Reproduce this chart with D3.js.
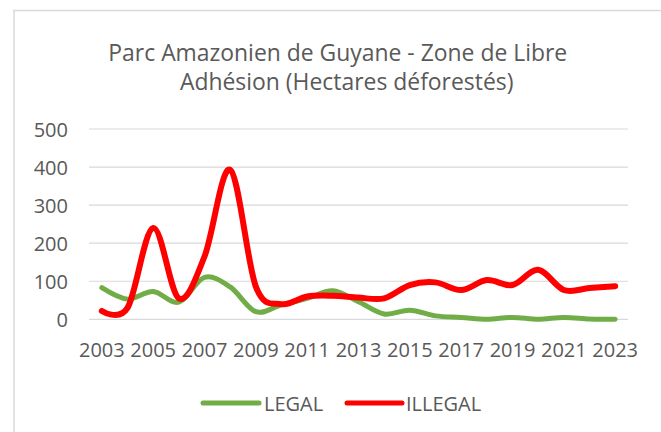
<!DOCTYPE html>
<html><head><meta charset="utf-8">
<script src="https://cdn.jsdelivr.net/npm/d3@7"></script>
<style>html,body{margin:0;padding:0;background:#fff;}svg{display:block;font-family:"Open Sans",sans-serif;}</style>
</head><body>
<svg id="c" width="661" height="432"></svg>
<script>
const years = [2003,2004,2005,2006,2007,2008,2009,2010,2011,2012,2013,2014,2015,2016,2017,2018,2019,2020,2021,2022,2023];
const legal = [83,53,73,45,110,85,20,38,55,75,46,14,24,9,5,0,5,0,5,1,0];
const illegal = [22,30,240,55,165,393,86,40,60,62,57,55,90,97,77,103,90,130,77,82,87];
const yTicks = [0,100,200,300,400,500];
const xTickYears = years.filter((y,i)=>i%2===0);
const seriesNames = ["LEGAL","ILLEGAL"];
const seriesColors = ["#70ad47","#ff0000"];
const titleLines = ["Parc Amazonien de Guyane - Zone de Libre","Adhésion (Hectares déforestés)"];

const svg = d3.select("#c");
const txt = "#595959";

// outer border
svg.append("rect").attr("x",14).attr("y",10.5).attr("width",700).attr("height",500)
  .attr("fill","none").attr("stroke","#d9d9d9").attr("stroke-width",1.5);

const x = d3.scaleBand().domain(years).range([89,628]);
const y = d3.scaleLinear().domain([0,500]).range([319.3,129]);

// grid
svg.append("g").selectAll("line").data(yTicks).join("line")
  .attr("x1",89).attr("x2",628).attr("y1",d=>y(d)).attr("y2",d=>y(d))
  .attr("stroke","#d9d9d9").attr("stroke-width",1.2);

// y axis labels
const yAxis = d3.axisLeft(y).tickValues(yTicks).tickSize(0).tickPadding(0);
const gy = svg.append("g").attr("transform","translate(68,0)").call(yAxis);
gy.select(".domain").remove();
gy.selectAll("text").attr("fill",txt).style("font-size","20px").style("font-family","Open Sans").attr("dy","0.35em");

// x axis labels
const xAxis = d3.axisBottom(x).tickValues(xTickYears).tickSize(0).tickPadding(0);
const gx = svg.append("g").attr("transform","translate(0,343)").call(xAxis);
gx.select(".domain").remove();
gx.selectAll("text").attr("fill",txt).style("font-size","20px").style("font-family","Open Sans").attr("dy","0.71em");

// lines
const cx = d => x(d) + x.bandwidth()/2;
const line = d3.line().x((d,i)=>cx(years[i])).y(d=>y(d)).curve(d3.curveCatmullRom.alpha(0));
[legal, illegal].forEach((s,k)=>{
  svg.append("path").attr("d",line(s)).attr("fill","none")
    .attr("stroke",seriesColors[k]).attr("stroke-width",k===1?6:5)
    .attr("stroke-linecap","round").attr("stroke-linejoin","round");
});

// title
const tpos = [{cx:337.8,by:61},{cx:346.7,by:90}];
titleLines.forEach((t,i)=>{
  const el = svg.append("text").attr("x",tpos[i].cx).attr("y",tpos[i].by)
    .attr("text-anchor","middle").attr("fill",txt).style("font-size","22px").text(t);
  if(i===0){
    const w = el.node().getComputedTextLength();
    const fs = 22*459/w;
    svg.selectAll(".tt").remove();
    el.style("font-size",fs+"px");
    window._fs = fs;
  } else {
    el.style("font-size",window._fs+"px");
  }
});

// legend
const legX = [[203,259,264],[347,402,406]];
seriesNames.forEach((n,k)=>{
  svg.append("line").attr("x1",legX[k][0]).attr("x2",legX[k][1]).attr("y1",403).attr("y2",403)
    .attr("stroke",seriesColors[k]).attr("stroke-width",5).attr("stroke-linecap","round");
  svg.append("text").attr("x",legX[k][2]).attr("y",410.7).attr("fill",txt)
    .style("font-size","20px").text(n);
});
</script>
</body></html>
